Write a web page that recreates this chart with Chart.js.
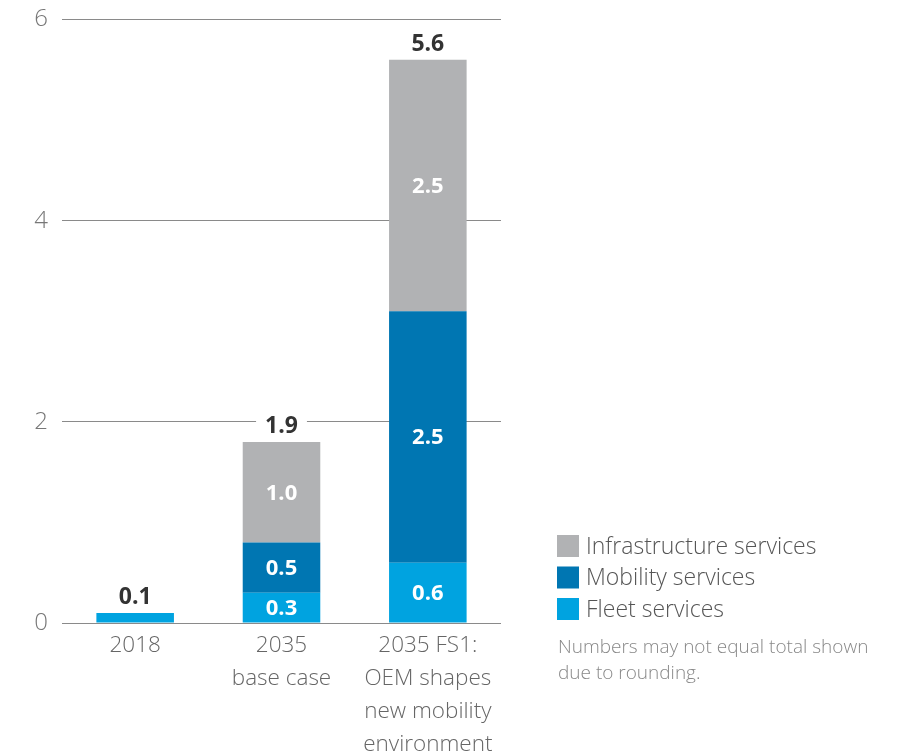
<!DOCTYPE html>
<html>
<head>
<meta charset="utf-8">
<script src="https://cdn.jsdelivr.net/npm/chart.js@4.4.1/dist/chart.umd.min.js"></script>
<style>
html,body{margin:0;padding:0;background:#fff;}
#wrap{position:relative;width:913px;height:756px;}
</style>
</head>
<body>
<div id="wrap"><canvas id="c" width="913" height="756"></canvas></div>
<script>
const categories = [['2018'], ['2035', 'base case'], ['2035 FS1:', 'OEM shapes', 'new mobility', 'environment']];
const fleetServices = [0.1, 0.3, 0.6];
const mobilityServices = [0, 0.5, 2.5];
const infrastructureServices = [0, 1.0, 2.5];
const totalLabels = ['0.1', '1.9', '5.6'];
const yTicks = [0, 2, 4, 6];
const noteLines = ['Numbers may not equal total shown', 'due to rounding.'];

const FONT = '"Open Sans", "Noto Sans", sans-serif';

const labelPlugin = {
  id: 'labels',
  afterDatasetsDraw(chart) {
    const ctx = chart.ctx;
    ctx.save();
    ctx.textAlign = 'center';
    ctx.textBaseline = 'middle';
    chart.data.datasets.forEach((ds, di) => {
      const meta = chart.getDatasetMeta(di);
      meta.data.forEach((bar, i) => {
        const v = ds.data[i];
        if (!v || v < 0.25) return;
        const y = (bar.y + bar.base) / 2;
        ctx.font = 'bold 22px ' + FONT;
        ctx.fillStyle = '#ffffff';
        ctx.fillText(v.toFixed(1), bar.x, y + 1);
      });
    });
    const n = chart.data.labels.length;
    for (let i = 0; i < n; i++) {
      let top = Infinity, x = 0;
      chart.data.datasets.forEach((ds, di) => {
        const bar = chart.getDatasetMeta(di).data[i];
        if (ds.data[i] > 0) { top = Math.min(top, bar.y); x = bar.x; }
      });
      const y = top - 16;
      ctx.font = 'bold 23px ' + FONT;
      const w = ctx.measureText(totalLabels[i]).width;
      ctx.fillStyle = '#ffffff';
      ctx.fillRect(x - w / 2 - 9, y - 13, w + 18, 26);
      ctx.fillStyle = '#333333';
      ctx.fillText(totalLabels[i], x, y + 1);
    }
    ctx.restore();
  }
};

const legendPlugin = {
  id: 'customLegend',
  afterDraw(chart) {
    const ctx = chart.ctx;
    ctx.save();
    const items = chart.data.datasets.slice().reverse();
    const x0 = 557, y0 = 546, step = 31.5;
    items.forEach((ds, k) => {
      const y = y0 + k * step;
      ctx.fillStyle = ds.backgroundColor;
      ctx.fillRect(x0, y - 11, 22, 22);
      ctx.fillStyle = '#555555';
      ctx.font = '300 23px ' + FONT;
      ctx.textAlign = 'left';
      ctx.textBaseline = 'middle';
      ctx.fillText(ds.label, x0 + 29, y + 1);
    });
    ctx.fillStyle = '#888888';
    ctx.font = '300 19px ' + FONT;
    ctx.textBaseline = 'middle';
    noteLines.forEach((t, k) => ctx.fillText(t, x0 + 1, 648 + k * 26));
    ctx.restore();
  }
};

new Chart(document.getElementById('c'), {
  type: 'bar',
  data: {
    labels: categories,
    datasets: [
      { label: 'Fleet services', data: fleetServices, backgroundColor: '#00A3E0' },
      { label: 'Mobility services', data: mobilityServices, backgroundColor: '#0076B2' },
      { label: 'Infrastructure services', data: infrastructureServices, backgroundColor: '#B1B2B4' }
    ]
  },
  options: {
    responsive: false,
    animation: false,
    layout: { padding: { left: 0, right: 412, top: 0, bottom: 0 } },
    plugins: { legend: { display: false }, tooltip: { enabled: false } },
    datasets: { bar: { categoryPercentage: 0.53, barPercentage: 1.0, borderWidth: 0 } },
    scales: {
      x: {
        stacked: true,
        grid: { display: false, drawTicks: false },
        border: { display: false },
        ticks: {
          color: '#666666',
          font: { family: FONT, size: 22.5, weight: '300', lineHeight: 33 / 22.5 },
          padding: 6,
          maxRotation: 0,
          autoSkip: false
        },
        afterFit(s) { s.height = 133; }
      },
      y: {
        stacked: true,
        min: 0, max: 6,
        afterBuildTicks(s) { s.ticks = yTicks.map(v => ({ value: v })); },
        grid: { color: '#8a8a8a', lineWidth: 1, drawTicks: true, tickLength: 0 },
        border: { display: false },
        ticks: {
          color: '#777777',
          font: { family: FONT, size: 24, weight: '300', lineHeight: 11 / 24 },
          padding: 14
        },
        afterFit(s) { s.width = 62; }
      }
    }
  },
  plugins: [labelPlugin, legendPlugin]
});
</script>
</body>
</html>
